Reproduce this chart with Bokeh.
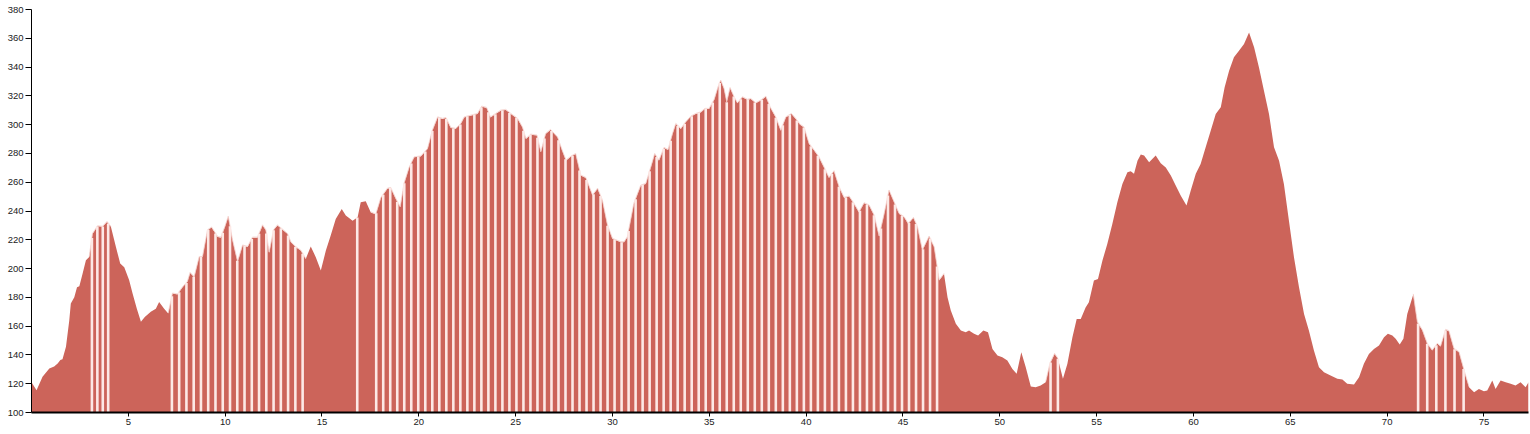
import numpy as np
from bokeh.plotting import figure
from bokeh.models import FixedTicker, Range1d, ColumnDataSource
from bokeh.embed import file_html
from bokeh.resources import INLINE

# distance (km) and elevation (m)
km = [0.0, 0.26, 0.57, 0.92, 1.17, 1.35, 1.49, 1.6, 1.78, 1.95, 2.03, 2.21, 2.35, 2.47, 2.64, 2.81, 2.98,
      3.15, 3.41, 3.67, 3.9, 4.1, 4.36, 4.58, 4.79, 5.04, 5.22, 5.44, 5.65, 5.85, 6.16, 6.42, 6.59, 6.85,
      7.06, 7.28, 7.54, 7.8, 8.05, 8.19, 8.4, 8.66, 8.83, 9.09, 9.3, 9.61, 9.78, 9.99, 10.16, 10.38, 10.64,
      10.9, 11.16, 11.41, 11.67, 11.93, 12.1, 12.27, 12.5, 12.7, 12.96, 13.22, 13.39, 13.65, 13.9, 14.16,
      14.42, 14.68, 14.94, 15.2, 15.45, 15.71, 16.02, 16.23, 16.58, 16.84, 17.0, 17.26, 17.52, 17.78,
      18.04, 18.38, 18.55, 18.81, 19.04, 19.24, 19.5, 19.76, 20.1, 20.45, 20.7, 20.97, 21.22, 21.4, 21.65,
      21.9, 22.17, 22.34, 22.68, 23.03, 23.25, 23.5, 23.7, 23.97, 24.23, 24.49, 24.75, 25.1, 25.35, 25.53,
      25.78, 26.1, 26.3, 26.55, 26.8, 27.16, 27.4, 27.6, 27.86, 28.1, 28.36, 28.62, 28.97, 29.23, 29.48,
      29.74, 30.0, 30.43, 30.6, 30.77, 31.1, 31.46, 31.72, 31.98, 32.18, 32.4, 32.66, 32.87, 33.1, 33.27,
      33.53, 33.78, 34.04, 34.3, 34.56, 34.77, 34.99, 35.25, 35.45, 35.59, 35.76, 35.9, 36.07, 36.28,
      36.45, 36.71, 36.97, 37.14, 37.4, 37.66, 37.92, 38.14, 38.43, 38.69, 38.95, 39.24, 39.46, 39.68,
      39.89, 40.15, 40.41, 40.66, 40.92, 41.18, 41.44, 41.7, 41.96, 42.22, 42.47, 42.73, 42.99, 43.25,
      43.51, 43.77, 44.03, 44.28, 44.54, 44.8, 45.06, 45.27, 45.54, 45.75, 46.0, 46.35, 46.61, 46.87,
      47.12, 47.3, 47.47, 47.73, 47.99, 48.24, 48.41, 48.67, 48.88, 49.15, 49.39, 49.62, 49.88, 50.13,
      50.39, 50.65, 50.87, 51.11, 51.34, 51.6, 51.85, 52.11, 52.37, 52.59, 52.83, 53.0, 53.26, 53.49,
      53.75, 53.97, 54.18, 54.43, 54.6, 54.86, 55.07, 55.3, 55.55, 55.81, 56.07, 56.33, 56.59, 56.76,
      56.93, 57.11, 57.28, 57.45, 57.71, 58.05, 58.31, 58.57, 58.83, 59.09, 59.34, 59.64, 59.86, 60.12,
      60.37, 60.63, 60.89, 61.15, 61.41, 61.61, 61.84, 62.09, 62.35, 62.61, 62.87, 63.13, 63.38, 63.64,
      63.9, 64.16, 64.42, 64.67, 64.93, 65.19, 65.45, 65.71, 65.96, 66.22, 66.48, 66.74, 67.08, 67.43,
      67.69, 67.94, 68.29, 68.55, 68.8, 69.06, 69.32, 69.58, 69.84, 70.04, 70.27, 70.44, 70.65, 70.84,
      71.04, 71.35, 71.56, 71.82, 72.07, 72.33, 72.59, 72.76, 73.02, 73.19, 73.45, 73.71, 73.97, 74.23,
      74.49, 74.74, 75.0, 75.17, 75.43, 75.6, 75.86, 76.12, 76.38, 76.63, 76.89, 77.15, 77.3]
elevation = [121, 115.5, 124.8, 130.5, 132, 134, 136.5, 137, 145.6, 164, 175.7, 180, 187, 187.7, 196.5, 205.8, 208,
             224, 229.4, 229, 232.4, 229, 215, 203.5, 201, 192, 182.6, 172, 163, 166.4, 170, 172, 176.8, 172,
             168.8, 182.6, 182, 187, 190.7, 197, 194, 208, 208, 226.6, 228.5, 222, 221.5, 229, 236, 219.7, 204.6,
             216, 215, 221.5, 221.5, 230, 226.6, 211, 226.6, 230, 227, 224, 218.3, 214.8, 212.5, 206.7,
             215.3, 207.9, 198.6, 212.5, 222.9, 234.5, 241.4, 236.8, 233.3, 235.6, 246, 246.8, 239, 237.5,
             249, 255.5, 256, 248.4, 242.6, 259, 270, 277.3, 277.8, 283, 295.8, 305, 304, 304.6, 297.7,
             297, 300.5, 305, 306.2, 307.4, 312.5, 311.6, 305, 307.4, 309.7, 310.2, 307.4, 304, 298, 290,
             293, 292.4, 280.8, 293.5, 296.3, 291.2, 282, 275, 277.8, 279.6, 264.6, 263, 250.7, 255.5, 247.2,
             230, 220.6, 218.3, 218.3, 221.8, 244.9, 257.6, 258.8, 270.3, 279.6, 275, 283.8, 282.4, 293.5, 300.5,
             297, 301.6, 305.5, 307.4, 308.5, 310.9, 310.9, 317.2, 325.9, 330.6, 324.8, 315.5, 325.4, 319,
             314.8, 319, 317.2, 317.8, 314.8, 316.7, 319.4, 312, 305, 295.8, 305, 307.4, 304, 300,
             298, 286.6, 282, 277.3, 270.3, 263, 267.6, 256.5, 249.1, 250, 244.9, 239, 245.4, 243.8,
             236.8, 222.2, 238, 254.2, 246, 238, 235.6, 231, 235.2, 228.7, 212.5, 222.2, 214.8, 191.7,
             196.3, 180, 170.8, 161.6, 157, 155.8, 157, 154.7, 153.5, 157, 155.8, 144.2, 139.6, 138.4,
             136.1, 130.3, 126.9, 141.9, 131.5, 118, 117.6, 118.8, 121, 133.8, 140.7, 137.3, 123.4, 133.8,
             152.3, 165, 165, 173, 176.6, 191.7, 192.8, 205.6, 217.1, 231, 246, 258.8, 266.9, 267.6,
             265.8, 275, 279.2, 278.5, 273.8, 278.5, 273.1, 270.3, 264.6, 257.6, 250.7, 243.8, 254.2, 265.8,
             272.7, 284.3, 295.8, 307.4, 312, 325.9, 337.5, 346.8, 351.4, 356, 364.1, 353.7, 339.8, 323.6,
             307.4, 284.3, 275, 258.8, 233.3, 207.9, 187, 168.5, 157, 143, 131.5, 128, 125.7, 123.4,
             122.9, 119.9, 119.4, 124.5, 133.8, 140.7, 144.2, 146.5, 152.3, 154.7, 153.5, 151.2, 147.2, 151.2,
             168.5, 182, 162.7, 157, 147.7, 143, 147.7, 145.8, 157.4, 156.5, 144.2, 141.9, 129.2, 117.6,
             114.1, 116.4, 114.8, 115.3, 122.2, 116.4, 122.2, 121, 119.9, 118.8, 121, 117.6, 121]

# striped stretches of the profile: start km, end km, stripe spacing km
stripe_start = [3.12, 7.25, 16.82, 17.8, 52.62, 71.6]
stripe_end = [4.0, 14.05, 16.82, 47.05, 53.0, 74.0]
stripe_step = [0.28, 0.375, 1.0, 0.362, 0.38, 0.47]

x_ticks = [5, 10, 15, 20, 25, 30, 35, 40, 45, 50, 55, 60, 65, 70, 75]
y_ticks = [100, 120, 140, 160, 180, 200, 220, 240, 260, 280, 300, 320, 340, 360, 380]

FILL = "#cc645a"
STRIPE = "#fde9e6"

km_a = np.array(km, dtype=float)
el_a = np.array(elevation, dtype=float)

p = figure(width=1530, height=432, output_backend="svg", toolbar_location=None,
           x_range=Range1d(0, km_a[-1]), y_range=Range1d(100, 380),
           min_border_left=31, min_border_right=2, min_border_top=9, min_border_bottom=20)
p.outline_line_color = None
p.xgrid.visible = False
p.ygrid.visible = False
p.background_fill_color = "white"
p.border_fill_color = "white"

p.varea(x=km_a, y1=np.full_like(el_a, 100.0), y2=el_a, fill_color=FILL, fill_alpha=1.0)

xs_all = []
for s, e, st in zip(stripe_start, stripe_end, stripe_step):
    xs = np.arange(s, e + 1e-6, st)
    xs_all.extend(xs.tolist())
    mask = (km_a >= s - st) & (km_a <= e + st * 0.5)
    seg_x = km_a[mask]
    seg_y = el_a[mask]
    if len(seg_x) > 1 and e > s:
        p.line(x=seg_x, y=seg_y + 0.4, line_color="#f4cdc8", line_width=0.8)
xs_all = np.array(xs_all)
src = ColumnDataSource(dict(x=xs_all, y0=np.full_like(xs_all, 100.0), y1=np.interp(xs_all, km_a, el_a)))
p.segment(x0="x", y0="y0", x1="x", y1="y1", source=src, line_color=STRIPE, line_width=2.6,
          line_cap="butt")

# axes
p.xaxis.ticker = FixedTicker(ticks=x_ticks)
p.yaxis.ticker = FixedTicker(ticks=y_ticks)
for ax in (p.xaxis, p.yaxis):
    ax.minor_tick_line_color = None
    ax.major_tick_in = 0
    ax.major_label_text_font = "Liberation Sans"
    ax.major_label_text_font_size = "9.5px"
    ax.major_label_text_color = "#222222"
    ax.major_tick_line_color = "#000000"
    ax.axis_line_color = "#000000"
p.yaxis.major_tick_out = 6
p.yaxis.major_label_standoff = 2
p.yaxis.axis_line_width = 1
p.xaxis.major_tick_out = 4
p.xaxis.major_label_standoff = 2
p.xaxis.axis_line_width = 2

open("out.html", "w").write(file_html(p, INLINE))
